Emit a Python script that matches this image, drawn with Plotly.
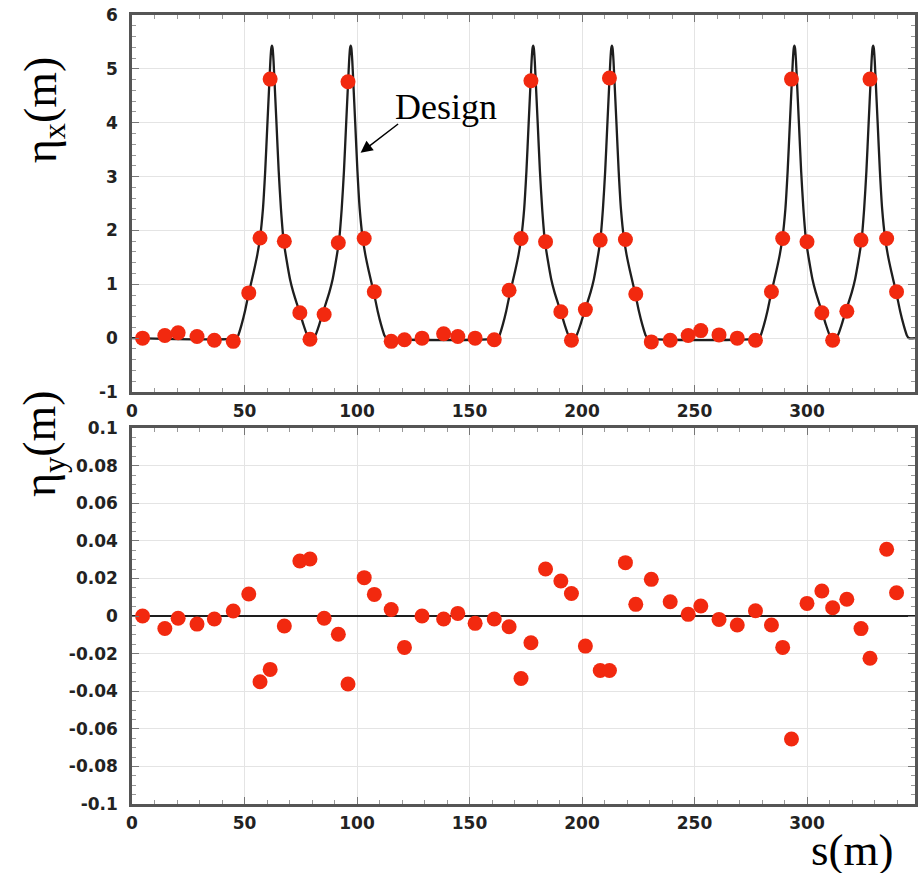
import plotly.graph_objects as go

# ---------------- data ----------------
# BPM positions s (m)
bpm_s = [4.7, 14.6, 20.5, 28.9, 36.6, 45.0, 51.9, 56.9, 61.4, 67.7, 74.6, 79.1,
         85.4, 91.7, 96.0, 103.2, 107.7, 115.2, 121.1, 128.9, 138.5, 144.8, 152.5,
         161.0, 167.6, 172.9, 177.3, 183.8, 190.6, 195.3, 201.5, 208.1, 212.2,
         219.3, 223.9, 230.8, 239.2, 247.2, 252.8, 260.9, 269.0, 277.1, 284.2,
         289.2, 293.1, 300.0, 306.6, 311.4, 317.7, 324.0, 328.0, 335.4, 339.8]

# measured horizontal dispersion eta_x (m)
meas_eta_x = [0.0, 0.05, 0.10, 0.03, -0.04, -0.06, 0.84, 1.86, 4.81, 1.80, 0.47, -0.02,
              0.44, 1.77, 4.76, 1.85, 0.86, -0.06, -0.03, 0.0, 0.08, 0.03, 0.0,
              -0.03, 0.89, 1.85, 4.78, 1.79, 0.49, -0.04, 0.53, 1.82, 4.83,
              1.83, 0.82, -0.07, -0.04, 0.05, 0.14, 0.06, 0.0, -0.04, 0.86,
              1.85, 4.81, 1.79, 0.47, -0.04, 0.50, 1.82, 4.81, 1.85, 0.86]

# measured vertical dispersion eta_y (m)
meas_eta_y = [0.0, -0.0066, -0.0012, -0.0043, -0.0016, 0.0027, 0.0117, -0.0350, -0.0284,
              -0.0053, 0.0293, 0.0303, -0.0012, -0.0097, -0.0362, 0.0204, 0.0115, 0.0035,
              -0.0167, 0.0, -0.0016, 0.0014, -0.0039, -0.0016, -0.0057, -0.0332, -0.0142,
              0.0250, 0.0186, 0.0120, -0.0160, -0.0290, -0.0290, 0.0284, 0.0062, 0.0195,
              0.0076, 0.0009, 0.0053, -0.0018, -0.0048, 0.0028, -0.0048, -0.0167, -0.0654,
              0.0067, 0.0133, 0.0044, 0.0089, -0.0067, -0.0225, 0.0355, 0.0124]

# design eta_x curve (m)
design_s = [0.0,
    46.3, 47.2, 48.7, 50.2, 51.9, 54.2, 55.7, 56.9, 58.2, 59.2,
    60.2, 61.1, 61.5, 61.9, 62.2, 62.5, 62.9, 63.3, 64.2, 65.2,
    66.2, 67.4, 68.7, 70.2, 71.7, 73.2, 74.6, 76.2, 77.7, 78.7,
    79.7,
    80.7, 81.7, 83.2, 84.8, 86.2, 87.7, 89.2, 90.7, 92.0, 93.2,
    94.2, 95.2, 96.1, 96.5, 96.9, 97.2, 97.5, 97.9, 98.3, 99.2,
    100.2, 101.2, 102.5, 103.7, 105.2, 107.5, 109.2, 110.7, 112.2, 113.1,
    162.4, 163.3, 164.8, 166.3, 168.0, 170.3, 171.8, 173.0, 174.3, 175.3,
    176.3, 177.2, 177.6, 178.0, 178.3, 178.6, 179.0, 179.4, 180.3, 181.3,
    182.3, 183.5, 184.8, 186.3, 187.8, 189.3, 190.7, 192.3, 193.8, 194.8,
    195.8,
    196.8, 197.8, 199.3, 200.9, 202.3, 203.8, 205.3, 206.8, 208.1, 209.3,
    210.3, 211.3, 212.2, 212.6, 213.0, 213.3, 213.6, 214.0, 214.4, 215.3,
    216.3, 217.3, 218.6, 219.8, 221.3, 223.6, 225.3, 226.8, 228.3, 229.2,
    278.5, 279.4, 280.9, 282.4, 284.1, 286.4, 287.9, 289.1, 290.4, 291.4,
    292.4, 293.3, 293.7, 294.1, 294.4, 294.7, 295.1, 295.5, 296.4, 297.4,
    298.4, 299.6, 300.9, 302.4, 303.9, 305.4, 306.8, 308.4, 309.9, 310.9,
    311.9,
    312.9, 313.9, 315.4, 317.0, 318.4, 319.9, 321.4, 322.9, 324.2, 325.4,
    326.4, 327.4, 328.3, 328.7, 329.1, 329.4, 329.7, 330.1, 330.5, 331.4,
    332.4, 333.4, 334.7, 335.9, 337.4, 339.7, 341.4, 342.9, 344.4, 345.3,
    348.0]

design_eta_x = [0.0,
    0.0, 0.05, 0.25, 0.5, 0.84, 1.25, 1.55, 1.86, 2.4, 3.1,
    4.0, 4.8, 5.15, 5.38, 5.43, 5.38, 5.15, 4.8, 4.0, 3.1,
    2.4, 1.8, 1.45, 1.1, 0.85, 0.65, 0.47, 0.25, 0.07, 0.0,
    0.0,
    0.0, 0.07, 0.25, 0.47, 0.65, 0.85, 1.1, 1.45, 1.8, 2.4,
    3.1, 4.0, 4.8, 5.15, 5.38, 5.43, 5.38, 5.15, 4.8, 4.0,
    3.1, 2.4, 1.86, 1.55, 1.25, 0.84, 0.5, 0.25, 0.05, 0.0,
    0.0, 0.05, 0.25, 0.5, 0.84, 1.25, 1.55, 1.86, 2.4, 3.1,
    4.0, 4.8, 5.15, 5.38, 5.43, 5.38, 5.15, 4.8, 4.0, 3.1,
    2.4, 1.8, 1.45, 1.1, 0.85, 0.65, 0.47, 0.25, 0.07, 0.0,
    0.0,
    0.0, 0.07, 0.25, 0.47, 0.65, 0.85, 1.1, 1.45, 1.8, 2.4,
    3.1, 4.0, 4.8, 5.15, 5.38, 5.43, 5.38, 5.15, 4.8, 4.0,
    3.1, 2.4, 1.86, 1.55, 1.25, 0.84, 0.5, 0.25, 0.05, 0.0,
    0.0, 0.05, 0.25, 0.5, 0.84, 1.25, 1.55, 1.86, 2.4, 3.1,
    4.0, 4.8, 5.15, 5.38, 5.43, 5.38, 5.15, 4.8, 4.0, 3.1,
    2.4, 1.8, 1.45, 1.1, 0.85, 0.65, 0.47, 0.25, 0.07, 0.0,
    0.0,
    0.0, 0.07, 0.25, 0.47, 0.65, 0.85, 1.1, 1.45, 1.8, 2.4,
    3.1, 4.0, 4.8, 5.15, 5.38, 5.43, 5.38, 5.15, 4.8, 4.0,
    3.1, 2.4, 1.86, 1.55, 1.25, 0.84, 0.5, 0.25, 0.05, 0.0,
    0.0]

# tick labels
x_ticks = [0, 50, 100, 150, 200, 250, 300]
x_tick_text = ["0", "50", "100", "150", "200", "250", "300"]
yx_ticks = [-1, 0, 1, 2, 3, 4, 5, 6]
yx_tick_text = ["-1", "0", "1", "2", "3", "4", "5", "6"]
yy_ticks = [-0.1, -0.08, -0.06, -0.04, -0.02, 0, 0.02, 0.04, 0.06, 0.08, 0.1]
yy_tick_text = ["-0.1", "-0.08", "-0.06", "-0.04", "-0.02", "0",
                "0.02", "0.04", "0.06", "0.08", "0.1"]


def bold(labels):
    return ["<b>" + t + "</b>" for t in labels]


# ---------------- figure ----------------
RED = "#f2290f"
LINE = "#1e1e1e"
FRAME = "#555555"
GRID = "#e4e4e4"
TICKFONT = dict(family="DejaVu Sans, Arial, sans-serif", size=17, color="#222222")
SERIF = "Liberation Serif, Times New Roman, serif"

fig = go.Figure()

fig.add_trace(go.Scatter(x=design_s, y=design_eta_x, mode="lines",
                         line=dict(color=LINE, width=2.3, shape="spline", smoothing=0.6),
                         xaxis="x", yaxis="y", showlegend=False, hoverinfo="skip"))
fig.add_trace(go.Scatter(x=bpm_s, y=meas_eta_x, mode="markers",
                         marker=dict(color=RED, size=15, line=dict(width=0)),
                         xaxis="x", yaxis="y", showlegend=False))
fig.add_trace(go.Scatter(x=bpm_s, y=meas_eta_y, mode="markers",
                         marker=dict(color=RED, size=15, line=dict(width=0)),
                         xaxis="x2", yaxis="y2", showlegend=False))

axis_common = dict(showline=True, linecolor=FRAME, linewidth=2.5, mirror="allticks",
                   ticks="inside", ticklen=7, tickwidth=1.2, tickcolor="#777777",
                   showgrid=True, gridcolor=GRID, gridwidth=1,
                   tickfont=TICKFONT)

xa = dict(axis_common, range=[0, 348], tickvals=x_ticks, ticktext=bold(x_tick_text),
          minor=dict(dtick=10, tick0=0, ticks="inside", ticklen=4, tickcolor="#999999",
                     showgrid=False),
          zeroline=False, ticklabelstandoff=2)

fig.update_layout(
    width=918, height=873,
    margin=dict(l=132, r=0, t=15, b=69),
    paper_bgcolor="white", plot_bgcolor="white",
    xaxis=dict(xa, domain=[0, 1], anchor="y"),
    yaxis=dict(axis_common, domain=[0.5222, 1], anchor="x", range=[-1, 6],
               tickvals=yx_ticks, ticktext=bold(yx_tick_text), zeroline=False,
               minor=dict(dtick=0.2, ticks="inside", ticklen=4, tickcolor="#999999",
                          showgrid=False),
               ticklabelstandoff=8),
    xaxis2=dict(xa, domain=[0, 1], anchor="y2"),
    yaxis2=dict(axis_common, domain=[0, 0.4765], anchor="x2", range=[-0.1, 0.1],
                tickvals=yy_ticks, ticktext=bold(yy_tick_text),
                zeroline=True, zerolinecolor=LINE, zerolinewidth=2.2,
                minor=dict(dtick=0.005, ticks="inside", ticklen=4, tickcolor="#999999",
                           showgrid=False),
                ticklabelstandoff=8),
    annotations=[
        dict(text="η<sub>x</sub>(m)", xref="paper", yref="paper",
             x=-0.113, y=0.88, xanchor="center", yanchor="middle", textangle=-90,
             showarrow=False, font=dict(family=SERIF, size=46, color="black")),
        dict(text="η<sub>y</sub>(m)", xref="paper", yref="paper",
             x=-0.113, y=0.457, xanchor="center", yanchor="middle", textangle=-90,
             showarrow=False, font=dict(family=SERIF, size=46, color="black")),
        dict(text="s(m)", xref="paper", yref="paper",
             x=0.92, y=-0.058, xanchor="center", yanchor="middle",
             showarrow=False, font=dict(family=SERIF, size=45, color="black")),
        dict(text="Design", xref="x", yref="y", x=139.7, y=4.29,
             xanchor="center", yanchor="middle", showarrow=False,
             font=dict(family=SERIF, size=36, color="black")),
        dict(text="", xref="x", yref="y", x=101.6, y=3.44, ax=39, ay=-30,
             showarrow=True, arrowhead=2, arrowsize=1.6, arrowwidth=1.5,
             arrowcolor="black"),
    ],
)

fig.write_html("out.html")
